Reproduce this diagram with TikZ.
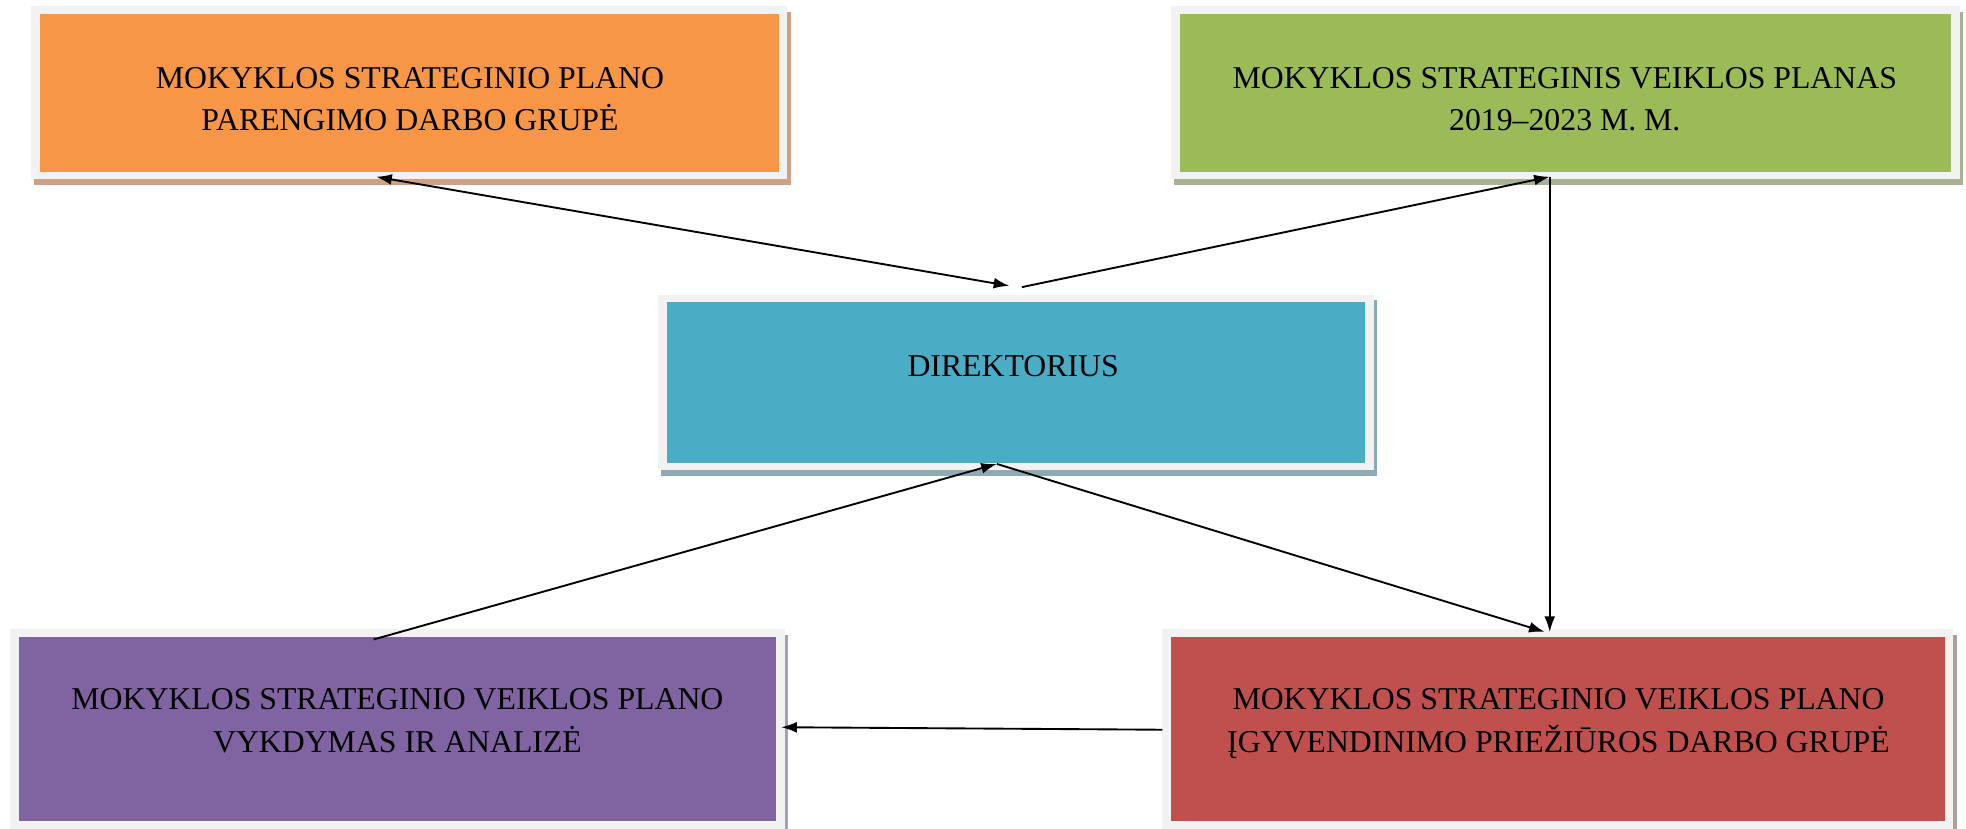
\documentclass[tikz,border=0pt]{standalone}
\usepackage{fontspec}
\setmainfont{Liberation Serif}
\usetikzlibrary{arrows.meta,shadows}
\definecolor{framegray}{HTML}{F2F2F2}
\definecolor{orangefill}{HTML}{F79646}
\definecolor{greenfill}{HTML}{9BBB59}
\definecolor{bluefill}{HTML}{4BACC6}
\definecolor{purplefill}{HTML}{8064A2}
\definecolor{redfill}{HTML}{C0504D}
\definecolor{orangeshadow}{HTML}{CFA184}
\definecolor{greenshadow}{HTML}{A6B293}
\definecolor{blueshadow}{HTML}{8EAAB4}
\definecolor{purpleshadow}{HTML}{A89CB8}
\definecolor{redshadow}{HTML}{B09E9E}
\begin{document}
\begin{tikzpicture}[x=0.6pt,y=-0.6pt,
  boxframe/.style={rectangle, fill=framegray, inner sep=0pt, outer sep=0pt,
    general shadow={fill=#1, shadow xshift=1.5pt, shadow yshift=-2.7pt}},
  lbl/.style={align=center, font=\fontsize{15.2}{20.4}\selectfont, inner sep=0pt},
  conn/.style={line width=0.9pt, -{Latex[length=7.5pt,width=5.2pt]}},
  dconn/.style={line width=0.9pt, {Latex[length=7.5pt,width=5.2pt]}-{Latex[length=7.5pt,width=5.2pt]}}
  ]
\useasboundingbox[fill=white] (0,0) rectangle (1568,661);

% boxes
\node[boxframe=orangeshadow, minimum width=361.8pt, minimum height=82.8pt] (org) at (326.5,74) {};
\fill[orangefill] ([shift={(7,6)}]org.north west) rectangle ([shift={(-7,-6)}]org.south east);
\node[boxframe=greenshadow, minimum width=377.4pt, minimum height=82.8pt] (grn) at (1248.5,74) {};
\fill[greenfill] ([shift={(7,6)}]grn.north west) rectangle ([shift={(-7,-6)}]grn.south east);
\node[boxframe=blueshadow, minimum width=342.6pt, minimum height=84pt] (blu) at (810.5,305) {};
\fill[bluefill] ([shift={(7,6)}]blu.north west) rectangle ([shift={(-7,-6)}]blu.south east);
\node[boxframe=purpleshadow, minimum width=370.8pt, minimum height=95.4pt] (pur) at (317,581.5) {};
\fill[purplefill] ([shift={(7,6)}]pur.north west) rectangle ([shift={(-7,-6)}]pur.south east);
\node[boxframe=redshadow, minimum width=378.6pt, minimum height=95.4pt] (red) at (1242.5,581.5) {};
\fill[redfill] ([shift={(7,6)}]red.north west) rectangle ([shift={(-7,-6)}]red.south east);

% labels
\node[lbl] (torg) at (327,79) {MOKYKLOS STRATEGINIO PLANO\\PARENGIMO DARBO GRUPĖ};
\node[lbl] (tgrn) at (1248,79) {MOKYKLOS STRATEGINIS VEIKLOS PLANAS\\2019–2023 M. M.};
\node[lbl] (tblu) at (808,292) {DIREKTORIUS};
\node[lbl] (tpur) at (317,575) {MOKYKLOS STRATEGINIO VEIKLOS PLANO\\VYKDYMAS IR ANALIZĖ};
\node[lbl] (tred) at (1243,577) {MOKYKLOS STRATEGINIO VEIKLOS PLANO\\ĮGYVENDINIMO PRIEŽIŪROS DARBO GRUPĖ};

% connector end points
\coordinate (a1) at (300,141);
\coordinate (a2) at (805,228);
\coordinate (b1) at (815,229);
\coordinate (b2) at (1236,141);
\coordinate (c1) at (1236,141);
\coordinate (c2) at (1236,504);
\coordinate (d1) at (795,370);
\coordinate (d2) at (1232,504);
\coordinate (e1) at (298,510);
\coordinate (e2) at (795,370);
\coordinate (f1) at (927,582);
\coordinate (f2) at (623,580);

\draw[dconn] (a1) -- (a2);
\draw[conn] (b1) -- (b2);
\draw[conn, line width=0.75pt] (c1) -- (c2);
\draw[conn] (d1) -- (d2);
\draw[conn] (e1) -- (e2);
\draw[conn] (f1) -- (f2);
\end{tikzpicture}
\end{document}
